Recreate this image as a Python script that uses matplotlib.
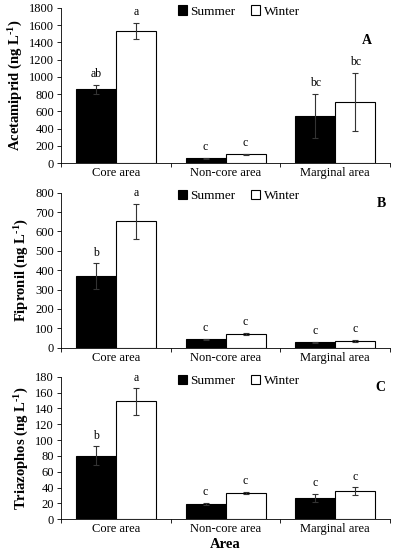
import numpy as np
import matplotlib
matplotlib.use('Agg')
import matplotlib.pyplot as plt

plt.rcParams['font.family'] = ['Liberation Serif', 'DejaVu Serif']
plt.rcParams['mathtext.fontset'] = 'custom'
plt.rcParams['mathtext.rm'] = 'Liberation Serif:bold'
plt.rcParams['mathtext.bf'] = 'Liberation Serif:bold'
plt.rcParams['mathtext.it'] = 'Liberation Serif:bold'

areas = ['Core area', 'Non-core area', 'Marginal area']

# panel A: acetamiprid
acet_summer = [855, 55, 545]
acet_summer_err = [55, 8, 255]
acet_winter = [1535, 100, 710]
acet_winter_err = [90, 10, 335]
acet_letters_s = ['ab', 'c', 'bc']
acet_letters_w = ['a', 'c', 'bc']

# panel B: fipronil
fip_summer = [370, 42, 28]
fip_summer_err = [65, 5, 3]
fip_winter = [652, 70, 35]
fip_winter_err = [90, 7, 5]
fip_letters_s = ['b', 'c', 'c']
fip_letters_w = ['a', 'c', 'c']

# panel C: triazophos
tri_summer = [80, 19.5, 27]
tri_summer_err = [12, 1.5, 5.5]
tri_winter = [149, 33.5, 36]
tri_winter_err = [17, 1.5, 5]
tri_letters_s = ['b', 'c', 'c']
tri_letters_w = ['a', 'c', 'c']

unit = ' (ng L$^{\\text{-}1}$)'
panels = [
    ('Acetamiprid' + unit, 'A', acet_summer, acet_summer_err, acet_winter, acet_winter_err,
     acet_letters_s, acet_letters_w, 1800, 200),
    ('Fipronil' + unit, 'B', fip_summer, fip_summer_err, fip_winter, fip_winter_err,
     fip_letters_s, fip_letters_w, 800, 100),
    ('Triazophos' + unit, 'C', tri_summer, tri_summer_err, tri_winter, tri_winter_err,
     tri_letters_s, tri_letters_w, 180, 20),
]

# axes rectangles [left, bottom, width, height] in figure fraction
rects = [
    [0.155, 0.7036, 0.835, 0.282],
    [0.155, 0.368, 0.835, 0.2816],
    [0.155, 0.0558, 0.835, 0.2593],
]
letter_pos = [(0.93, 0.83), (0.975, 0.97), (0.97, 0.97)]

fig = plt.figure(figsize=(3.94, 5.5), dpi=100)
x = np.arange(len(areas))
w = 0.365

for rect, p, lp in zip(rects, panels, letter_pos):
    ylabel, tag, s, se, wv, we, ls, lw, ymax, step = p
    ax = fig.add_axes(rect)
    ax.bar(x - w / 2, s, w, color='black', edgecolor='black', linewidth=0.8, label='Summer',
           yerr=se, error_kw=dict(ecolor='#333333', elinewidth=0.8, capsize=2.5, capthick=0.8))
    ax.bar(x + w / 2, wv, w, color='white', edgecolor='black', linewidth=0.8, label='Winter',
           yerr=we, error_kw=dict(ecolor='#333333', elinewidth=0.8, capsize=2.5, capthick=0.8))
    off = ymax * 0.03
    for i in range(len(areas)):
        ax.text(x[i] - w / 2, s[i] + se[i] + off, ls[i], ha='center', va='bottom', fontsize=8.5)
        ax.text(x[i] + w / 2, wv[i] + we[i] + off, lw[i], ha='center', va='bottom', fontsize=8.5)
    ax.set_xlim(-0.5, 2.5)
    ax.set_ylim(0, ymax)
    ax.set_yticks(np.arange(0, ymax + 1, step))
    ax.set_xticks(x)
    ax.set_xticklabels(areas)
    ax.set_xticks([-0.5, 0.5, 1.5, 2.5], minor=True)
    ax.tick_params(axis='x', which='major', length=0, labelsize=9, pad=3)
    ax.tick_params(axis='x', which='minor', length=3, width=0.6, direction='out')
    ax.tick_params(axis='y', length=3, width=0.6, labelsize=9, pad=2)
    ax.spines['top'].set_visible(False)
    ax.spines['right'].set_visible(False)
    ax.spines['left'].set_linewidth(0.6)
    ax.spines['bottom'].set_linewidth(0.6)
    ax.set_ylabel(ylabel, fontsize=10.5, fontweight='bold', labelpad=3)
    ax.text(lp[0], lp[1], tag, transform=ax.transAxes, fontsize=10, fontweight='bold',
            ha='center', va='top')
    ax.legend(loc='upper center', bbox_to_anchor=(0.54, 1.05), ncol=2, frameon=False,
              fontsize=9.5, handlelength=0.7, handleheight=0.7, handletextpad=0.25,
              columnspacing=1.2, borderaxespad=0)

ax.set_xlabel('Area', fontsize=10.5, fontweight='bold', labelpad=2)

fig.savefig('out.png', dpi=100)
